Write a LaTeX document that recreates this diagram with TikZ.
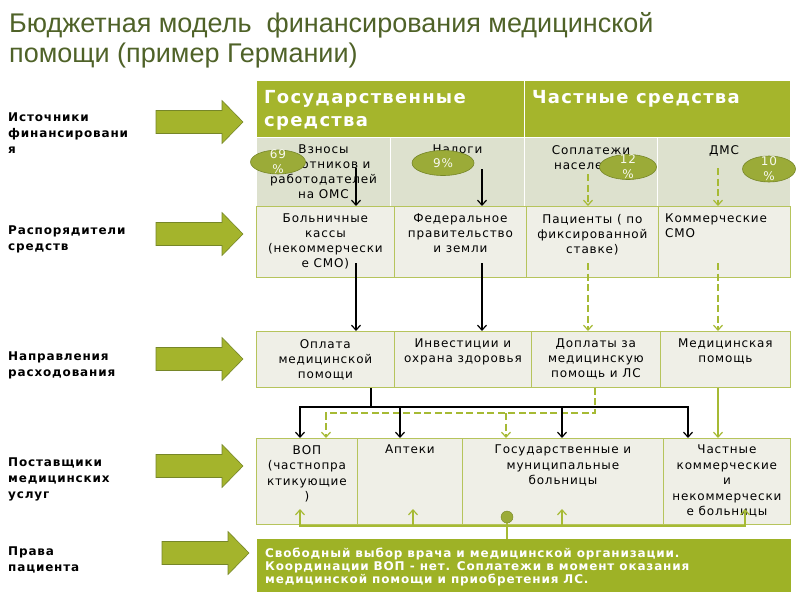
\documentclass[tikz,border=0pt]{standalone}
\usepackage{fontspec}
\setmainfont{DejaVu Sans}[LetterSpace=7]
\newfontfamily\titlefont{Liberation Sans}
\usetikzlibrary{positioning,shapes.geometric,arrows.meta}

\definecolor{headgreen}{RGB}{165,181,44}
\definecolor{topfill}{RGB}{221,225,206}
\definecolor{cellfill}{RGB}{239,239,231}
\definecolor{cellline}{RGB}{182,196,92}
\definecolor{ovalfill}{RGB}{155,171,56}
\definecolor{ovalline}{RGB}{118,134,40}
\definecolor{arrowfill}{RGB}{164,180,44}
\definecolor{arrowline}{RGB}{118,134,40}
\definecolor{linegreen}{RGB}{166,186,52}
\definecolor{boxgreen}{RGB}{158,178,38}
\definecolor{titlecol}{RGB}{79,98,40}

\begin{document}
\begin{tikzpicture}[x=1pt,y=-1pt,
headcell/.style={draw=white,fill=headgreen,line width=1pt,inner sep=0pt,anchor=north west},
topcell/.style={draw=white,fill=topfill,line width=1pt,inner sep=0pt,anchor=north west},
cell/.style={draw=cellline,fill=cellfill,line width=0.8pt,inner sep=0pt,anchor=north west},
headtext/.style={text=white,font=\bfseries\fontsize{18}{23}\selectfont,align=left,inner sep=0pt,anchor=north west},
celltext/.style={font=\fontsize{12}{15}\selectfont,align=center,inner sep=0pt},
sidetext/.style={font=\bfseries\fontsize{12}{16}\selectfont,align=left,inner sep=0pt,anchor=north west},
oval/.style={ellipse,draw=ovalline,fill=ovalfill,line width=0.6pt,inner sep=0pt},
ovaltext/.style={text=white!92!ovalfill,font=\fontsize{12}{15}\selectfont,align=center,inner sep=0pt},
bigarrow/.style={draw=arrowline,fill=arrowfill,line width=0.6pt},
blackline/.style={draw=black,line width=1.8pt},
blackarrow/.style={blackline,-{Straight Barb[length=5pt,width=9pt,line width=1.2pt]}},
dashline/.style={draw=linegreen,line width=1.8pt,dash pattern=on 7pt off 3.5pt},
dasharrow/.style={dashline,-{Straight Barb[length=5pt,width=9pt,line width=1.2pt]}},
greenline/.style={draw=linegreen,line width=1.8pt},
greenarrow/.style={greenline,-{Straight Barb[length=5pt,width=9pt,line width=1.2pt]}},
dot/.style={circle,draw=ovalline,fill=ovalfill,inner sep=0pt,minimum size=12pt}]

\useasboundingbox (0,0) rectangle (800,600);

\node[anchor=north west,inner sep=0pt,align=left,text=titlecol,font=\titlefont\fontsize{27}{30.5}\selectfont] (title) at (9,12)
{Бюджетная модель \ финансирования медицинской\\помощи (пример Германии)};

\foreach \y in {122,234,359,466}
\draw[bigarrow] (156,\y-11.5) -- (222,\y-11.5) -- (222,\y-21.5) -- (243,\y) -- (222,\y+21.5) -- (222,\y+11.5) -- (156,\y+11.5) -- cycle;
\draw[bigarrow] (162,541.5) -- (228,541.5) -- (228,531.5) -- (249,553) -- (228,574.5) -- (228,564.5) -- (162,564.5) -- cycle;

\node[sidetext] (lsource) at (8,113) {Источники\\финансировани\\я};
\node[sidetext] (lmanager) at (8,226) {Распорядители\\средств};
\node[sidetext] (ldirect) at (8,352) {Направления\\расходования};
\node[sidetext] (lprovider) at (8,458) {Поставщики\\медицинских\\услуг};
\node[sidetext] (lrights) at (8,547) {Права\\пациента};

\node[headcell,minimum width=268,minimum height=57] (gos) at (256,80) {};
\node[headcell,minimum width=266,minimum height=57] (chast) at (524,80) {};
\node[headtext] (gostext) at (264,90) {Государственные\\средства};
\node[headtext] (chasttext) at (532,90) {Частные средства};

\node[topcell,minimum width=134,minimum height=69] (vznosy) at (256,137) {};
\node[topcell,minimum width=134,minimum height=69] (nalogi) at (390,137) {};
\node[topcell,minimum width=133,minimum height=69] (soplat) at (524,137) {};
\node[topcell,minimum width=133,minimum height=69] (dms) at (657,137) {};
\node[celltext,below=8pt of vznosy.north] (vznosytext) {Взносы\\работников и\\работодателей\\на ОМС};
\node[celltext,below=8pt of nalogi.north] (nalogitext) {Налоги};
\node[celltext,below=8pt of soplat.north] (soplattext) {Соплатежи\\населения};
\node[celltext,below=8pt of dms.north] (dmstext) {ДМС};

\node[cell,minimum width=138,minimum height=71] (kassy) at (256,206) {};
\node[cell,minimum width=132,minimum height=71] (pravit) at (394,206) {};
\node[cell,minimum width=132,minimum height=71] (pacienty) at (526,206) {};
\node[cell,minimum width=132,minimum height=71] (smo) at (658,206) {};
\node[celltext,below=8pt of kassy.north] (kassytext) {Больничные\\кассы\\(некоммерчески\\е СМО)};
\node[celltext,below=8pt of pravit.north] (pravittext) {Федеральное\\правительство\\и земли};
\node[celltext,below=8pt of pacienty.north] (pacientytext) {Пациенты ( по\\фиксированной\\ставке)};
\node[celltext,align=left,below right=8pt and 7pt of smo.north west] (smotext) {Коммерческие\\СМО};

\node[cell,minimum width=138,minimum height=56] (oplata) at (256,331) {};
\node[cell,minimum width=137,minimum height=56] (invest) at (394,331) {};
\node[cell,minimum width=129,minimum height=56] (doplaty) at (531,331) {};
\node[cell,minimum width=130,minimum height=56] (medpom) at (660,331) {};
\node[celltext,below=8pt of oplata.north] (oplatatext) {Оплата\\медицинской\\помощи};
\node[celltext,below=8pt of invest.north] (investtext) {Инвестиции и\\охрана здоровья};
\node[celltext,below=8pt of doplaty.north] (doplatytext) {Доплаты за\\медицинскую\\помощь и ЛС};
\node[celltext,below=8pt of medpom.north] (medpomtext) {Медицинская\\помощь};

\node[cell,minimum width=101,minimum height=86] (vop) at (256,438) {};
\node[cell,minimum width=105,minimum height=86] (apteki) at (357,438) {};
\node[cell,minimum width=201,minimum height=86] (bolnicy) at (462,438) {};
\node[cell,minimum width=127,minimum height=86] (chastnye) at (663,438) {};
\node[celltext,font=\fontsize{12}{15.5}\selectfont,below=7pt of vop.north] (voptext) {ВОП\\(частнопра\\ктикующие\\)};
\node[celltext,below=7pt of apteki.north] (aptekitext) {Аптеки};
\node[celltext,font=\fontsize{12}{15.5}\selectfont,below=7pt of bolnicy.north] (bolnicytext) {Государственные и\\муниципальные\\больницы};
\node[celltext,font=\fontsize{12}{15.5}\selectfont,below=7pt of chastnye.north] (chastnyetext) {Частные\\коммерческие\\и\\некоммерчески\\е больницы};

\node[draw=boxgreen,fill=boxgreen,minimum width=533,minimum height=52,inner sep=0pt,anchor=north west] (prava) at (257,539) {};
\node[text=white,font=\bfseries\fontsize{12}{13}\selectfont,align=left,inner sep=0pt,below right=9pt and 8pt of prava.north west] (pravatext)
{Свободный выбор врача и медицинской организации.\\Координации ВОП - нет. Соплатежи в момент оказания\\медицинской помощи и приобретения ЛС.};

\coordinate (a1) at (356,168);
\coordinate (a2) at (482,169);
\coordinate (a3) at (588,174);
\coordinate (a4) at (718,168);
\draw[blackarrow] (a1) -- (a1 |- kassy.north);
\draw[blackarrow] (a2) -- (a2 |- pravit.north);
\draw[dasharrow] (a3) -- (a3 |- pacienty.north);
\draw[dasharrow] (a4) -- (a4 |- smo.north);

\node[oval,minimum width=55,minimum height=24] (p69) at (278,162) {};
\node[ovaltext] (p69text) at (p69) {69\\\%};
\node[oval,minimum width=62,minimum height=25] (p9) at (443,163) {};
\node[ovaltext] (p9text) at (p9) {9\%};
\node[oval,minimum width=57,minimum height=25] (p12) at (628,167) {};
\node[ovaltext] (p12text) at (p12) {12\\\%};
\node[oval,minimum width=53,minimum height=26] (p10) at (769,169) {};
\node[ovaltext] (p10text) at (p10) {10\\\%};

\coordinate (b1) at (356,263);
\coordinate (b2) at (482,263);
\coordinate (b3) at (588,263);
\coordinate (b4) at (718,263);
\draw[blackarrow] (b1) -- (b1 |- oplata.north);
\draw[blackarrow] (b2) -- (b2 |- invest.north);
\draw[dasharrow] (b3) -- (b3 |- doplaty.north);
\draw[dasharrow] (b4) -- (b4 |- medpom.north);

\coordinate (split) at (371,407);
\coordinate (d1) at (300,407);
\coordinate (d2) at (400,407);
\coordinate (d3) at (562,407);
\coordinate (d4) at (688,407);
\coordinate (e0) at (595,413);
\coordinate (e1) at (326,413);
\coordinate (e2) at (506,413);
\draw[dasharrow] (e0 |- doplaty.south) -- (e0) -- (e1) -- (e1 |- vop.north);
\draw[dasharrow] (e2) -- (e2 |- bolnicy.north);
\draw[blackline] (split |- oplata.south) -- (split);
\draw[blackline,line cap=rect] (d1) -- (d4);
\foreach \c/\n in {d1/vop,d2/apteki,d3/bolnicy,d4/chastnye}
\draw[blackarrow] (\c) -- (\c |- \n.north);

\coordinate (f1) at (718,387);
\draw[greenarrow] (f1 |- medpom.south) -- (f1 |- chastnye.north);

\coordinate (g1) at (300,526);
\coordinate (g2) at (413,526);
\coordinate (g3) at (562,526);
\coordinate (g4) at (745,526);
\draw[greenline,line cap=rect] (g1) -- (g4);
\foreach \c in {g1,g2,g3,g4}
\draw[greenarrow] (\c) -- ++(0,-17);
\node[dot] (hub) at (507,517) {};
\draw[greenline] (hub) -- (hub |- prava.north);

\end{tikzpicture}
\end{document}
